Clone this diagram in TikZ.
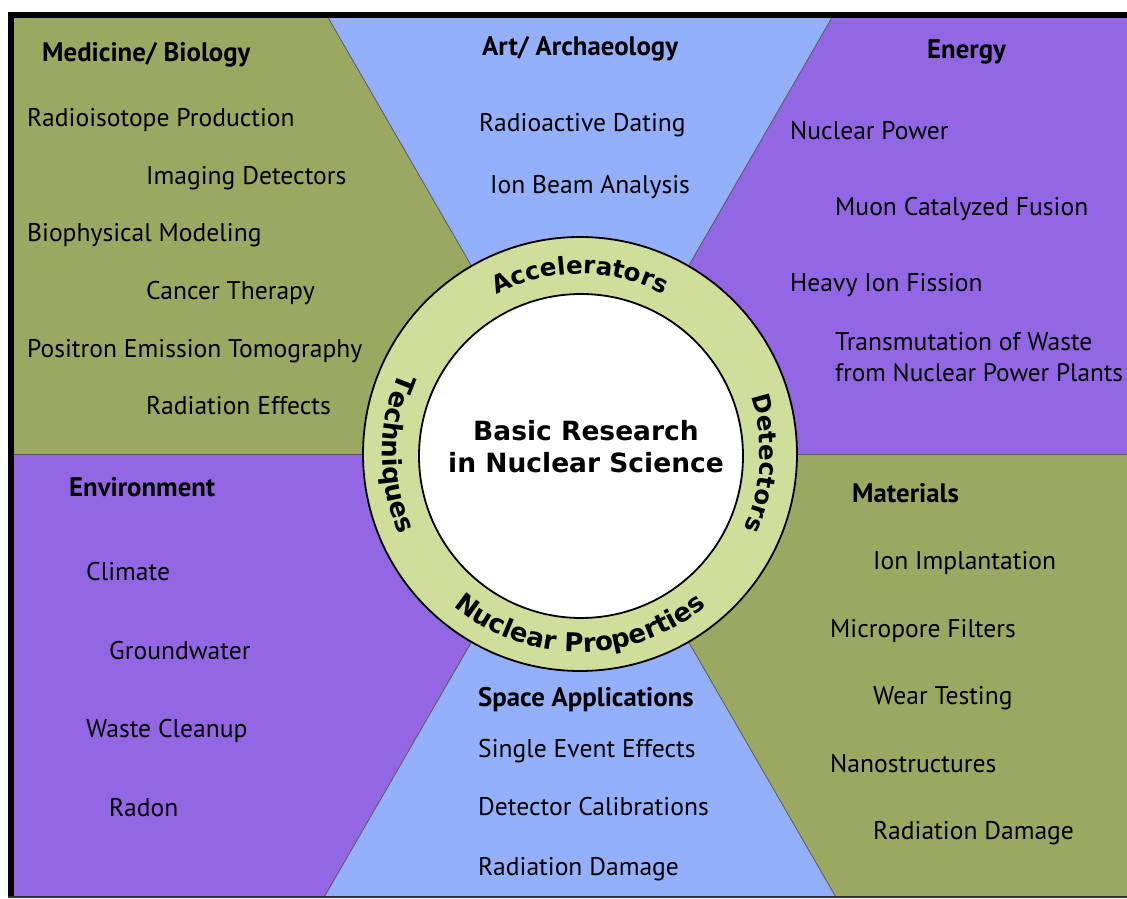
\documentclass[tikz,border=0pt]{standalone}
\usepackage{fontspec}
\setmainfont{PT Sans}
\newfontfamily\ringfont{DejaVu Sans}
\usepackage{tikz}
\usetikzlibrary{decorations.text}

\definecolor{panelgreen}{RGB}{155,168,98}
\definecolor{panelblue}{RGB}{148,176,252}
\definecolor{panelpurple}{RGB}{147,103,228}
\definecolor{ringgreen}{RGB}{207,222,154}

\newcommand{\itemfont}{\fontsize{25.6}{30}\selectfont}
\newcommand{\headfont}{\fontsize{26.8}{30}\selectfont\bfseries}
\newcommand{\ringlbl}{\ringfont\bfseries\fontsize{24.5}{24.5}\selectfont}
\newcommand{\ringlblin}{\ringfont\bfseries\fontsize{26}{26}\selectfont}

\begin{document}
\begin{tikzpicture}[x=1pt, y=1pt,
    item/.style={anchor=base west, inner sep=0pt, font=\itemfont},
    head/.style={item, font=\headfont},
    divider/.style={draw=black!65, line width=0.8pt},
    ringtext/.style={decorate, decoration={text along path, text align=center, text={|\ringlbl|#1}}},
    ringtextin/.style={decorate, decoration={text along path, text align=center, text={|\ringlblin|#1}}}]
  \useasboundingbox (0, 0) rectangle (1127, 899);
  \fill[white] (0, 0) rectangle (1127, 899);

  % corners and cuts of the six sectors
  \coordinate (ctr) at (580, 445);
  \coordinate (tl) at (13, 881);
  \coordinate (tr) at (1127, 881);
  \coordinate (bl) at (13, 2);
  \coordinate (br) at (1127, 2);
  \coordinate (ml) at (13, 445);
  \coordinate (mr) at (1127, 445);
  \coordinate (tlcut) at (328.3, 881);
  \coordinate (trcut) at (831.7, 881);
  \coordinate (blcut) at (324.2, 2);
  \coordinate (brcut) at (835.8, 2);

  \fill[panelgreen] (tl) -- (tlcut) -- (ctr) -- (ml) -- cycle;
  \fill[panelblue] (tlcut) -- (trcut) -- (ctr) -- cycle;
  \fill[panelpurple] (trcut) -- (tr) -- (mr) -- (ctr) -- cycle;
  \fill[panelgreen] (ctr) -- (mr) -- (br) -- (brcut) -- cycle;
  \fill[panelblue] (ctr) -- (brcut) -- (blcut) -- cycle;
  \fill[panelpurple] (ctr) -- (blcut) -- (bl) -- (ml) -- cycle;

  \draw[divider] (tlcut) -- (ctr) -- (trcut);
  \draw[divider] (blcut) -- (ctr) -- (brcut);
  \draw[divider] (ml) -- (mr);

  % frame
  \draw[line width=6pt] (10.5, 2) -- (10.5, 884) -- (1127, 884);
  \draw[black!80, line width=2pt] (7.5, 2) -- (1127, 2);

  % ring and hub
  \node (ring) at (ctr) [circle, draw, line width=1.8pt, fill=ringgreen,
    inner sep=0pt, minimum size=434pt] {};
  \node (core) at (581, 443) [circle, draw, line width=1.8pt, fill=white,
    inner sep=0pt, minimum size=324pt] {};
  \node (hub) at (586, 452) [align=center, font=\ringfont\bfseries\fontsize{26.5}{32}\selectfont]
    {Basic Research \\ in Nuclear Science};

  \path[ringtext=Accelerators] (ctr) ++(135:180) arc[start angle=135, end angle=45, radius=180];
  \path[ringtext=Detectors] (ctr) ++(42:180) arc[start angle=42, end angle=-48, radius=180];
  \path[ringtextin=Nuclear Properties] (ctr) ++(195:198) arc[start angle=195, end angle=345, radius=198];
  \path[ringtextin=Techniques] (ctr) ++(135:198) arc[start angle=135, end angle=225, radius=198];

  % Medicine/ Biology
  \node (medhead) at (42, 837) [head] {Medicine/ Biology};
  \node (radioiso) at (27, 772) [item] {Radioisotope Production};
  \node (imaging) at (146, 714) [item] {Imaging Detectors};
  \node (biophys) at (27, 657) [item] {Biophysical Modeling};
  \node (cancer) at (146, 599) [item] {Cancer Therapy};
  \node (pet) at (27, 541) [item] {Positron Emission Tomography};
  \node (radeffects) at (146, 484) [item] {Radiation Effects};

  % Art/ Archaeology
  \node (arthead) at (482, 843) [head] {Art/ Archaeology};
  \node (dating) at (479, 767) [item] {Radioactive Dating};
  \node (ionbeam) at (490, 705) [item] {Ion Beam Analysis};

  % Energy
  \node (energyhead) at (927, 840) [head] {Energy};
  \node (nucpower) at (790, 759) [item] {Nuclear Power};
  \node (muon) at (835, 683) [item] {Muon Catalyzed Fusion};
  \node (fission) at (790, 607) [item] {Heavy Ion Fission};
  \node (transmut) at (835, 548) [item] {Transmutation of Waste};
  \node (plants) at (835, 517) [item, font=\fontsize{25.3}{30}\selectfont] {from Nuclear Power Plants};

  % Environment
  \node (envhead) at (69, 402) [head] {Environment};
  \node (climate) at (86, 318) [item] {Climate};
  \node (ground) at (109, 239) [item] {Groundwater};
  \node (cleanup) at (86, 161) [item] {Waste Cleanup};
  \node (radon) at (109, 82) [item] {Radon};

  % Materials
  \node (mathead) at (852, 396) [head] {Materials};
  \node (implant) at (873, 329) [item] {Ion Implantation};
  \node (micropore) at (830, 261) [item] {Micropore Filters};
  \node (wear) at (873, 194) [item] {Wear Testing};
  \node (nano) at (830, 126) [item] {Nanostructures};
  \node (matdamage) at (873, 59) [item] {Radiation Damage};

  % Space Applications
  \node (spacehead) at (478, 192) [head] {Space Applications};
  \node (single) at (478, 141) [item] {Single Event Effects};
  \node (calib) at (478, 83) [item] {Detector Calibrations};
  \node (spacedamage) at (478, 23) [item] {Radiation Damage};
\end{tikzpicture}
\end{document}
